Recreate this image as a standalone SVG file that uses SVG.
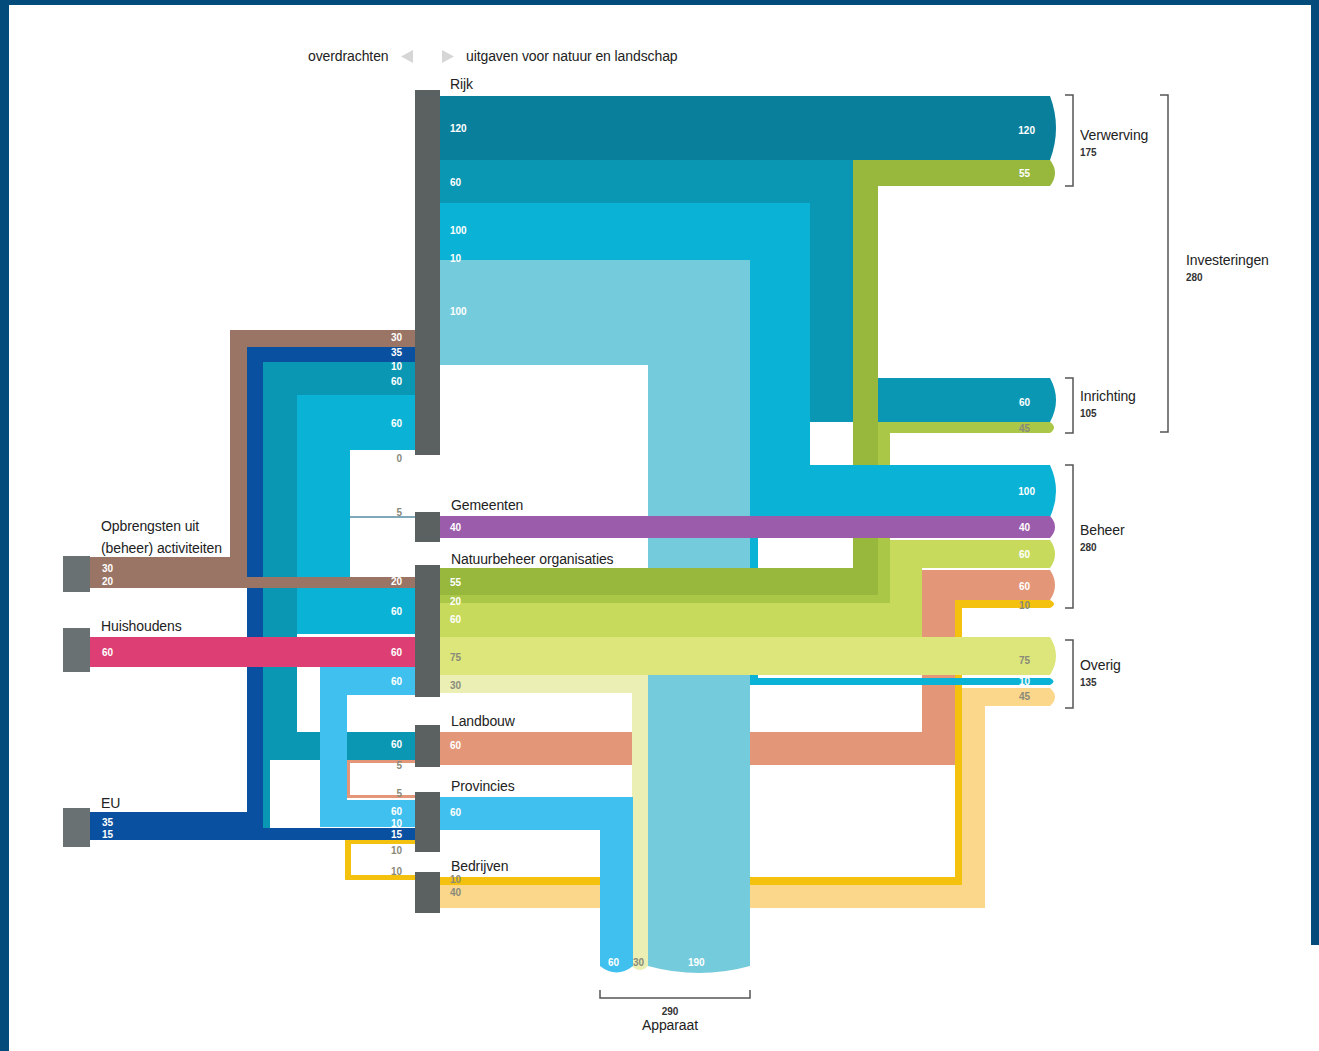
<svg xmlns="http://www.w3.org/2000/svg" width="1319" height="1051" viewBox="0 0 1319 1051">
<style>
text{font-family:"Liberation Sans",Arial,sans-serif}
.lbl{font-size:14px;fill:#222;letter-spacing:-0.1px}
.num{font-size:10px;font-weight:bold;fill:#fff}
.numg{font-size:10px;font-weight:bold;fill:#8a8a7a}
.tot{font-size:10px;font-weight:bold;fill:#333}
.node{fill:#5b6061}
.src{fill:#697173}
.br{fill:none;stroke:#555;stroke-width:1.5}
.dteal{fill:#0a7f9c}.teal{fill:#0a97b3}.cyan{fill:#0ab3d5}.lblue{fill:#74cbdb}
.dgreen{fill:#97b83d}.lgreen{fill:#abc748}.ygreen{fill:#c7da5c}.pale{fill:#dce67b}.vpale{fill:#ebefb4}
.purple{fill:#9a5cab}.salmon{fill:#e39678}.yellow{fill:#f4c10e}.lorange{fill:#fbd78b}
.sky{fill:#3fc0ee}.pink{fill:#dd3f74}.brown{fill:#9a7565}.dblue{fill:#0a50a0}
</style>
<rect x="0" y="0" width="1319" height="1051" fill="#fff"/>
<rect x="0" y="0" width="1319" height="5" fill="#024b7a"/>
<rect x="0" y="0" width="9" height="1051" fill="#024b7a"/>
<rect x="1311" y="0" width="8" height="945" fill="#024b7a"/>

<g id="legend">
<text class="lbl" x="308" y="61">overdrachten</text>
<polygon points="413,50 413,63 401,56.5" fill="#d6d6d6"/>
<polygon points="442,50 442,63 454,56.5" fill="#d6d6d6"/>
<text class="lbl" x="466" y="61">uitgaven voor natuur en landschap</text>
</g>

<g id="connectors">
<path class="teal" d="M440,160 H853 V422 H810 V203 H440 Z"/>
<path class="teal" d="M810,378 H1050 Q1062,400 1050,422 H810 Z"/>
<path class="cyan" d="M440,203 H810 V517 H750 V260 H440 Z"/>
<rect class="cyan" x="749" y="258" width="9" height="427"/>
<path class="salmon" d="M922,570 H955 V765 H440 V732 H922 Z"/>
<path class="salmon" d="M922,570 H1050 Q1060,585 1050,600 H922 Z"/>
<path class="yellow" d="M955,600 H962 V885 H440 V877 H955 Z"/>
<path class="yellow" d="M955,600 H1050 Q1058,604 1050,608 H955 Z"/>
<path class="lorange" d="M962,688 H985 V908 H440 V885 H962 Z"/>
<path class="lorange" d="M962,688 H1050 Q1060,697 1050,706 H962 Z"/>
<path class="lblue" d="M440,260 H750 V966 Q699,980 648,966 V365 H440 Z"/>
<path class="vpale" d="M440,675 H648 V966 Q640,974 632,966 V693 H440 Z"/>
<path class="sky" d="M440,797 H633 V966 Q616.5,979 600,966 V830 H440 Z"/>
<path class="dgreen" d="M853,160 H878 V595 H440 V568 H853 Z"/>
<path class="dgreen" d="M853,160 H1050 Q1060,173 1050,186 H853 Z"/>
<path class="lgreen" d="M878,422 H890 V603 H440 V595 H878 Z"/>
<path class="lgreen" d="M878,422 H1050 Q1058,427.5 1050,433 H878 Z"/>
<path class="ygreen" d="M890,540 H922 V637 H440 V603 H890 Z"/>
<path class="ygreen" d="M890,540 H1050 Q1060,554 1050,568 H890 Z"/>
<path class="cyan" d="M750,465 H1050 Q1062,491 1050,517 H750 Z"/>
<path class="purple" d="M440,516 H1050 Q1060,527 1050,538 H440 Z"/>
<path class="pale" d="M440,637 H1050 Q1062,656 1050,675 H440 Z"/>
<path class="cyan" d="M750,678 H1050 Q1057,681.5 1050,685 H750 Z"/>
<path class="dteal" d="M440,96 H1050 Q1062,128 1050,160 H440 Z"/>
<path class="dblue" d="M415,347 H247 V812 H90 V840 H415 V828 H263 V362 H415 Z"/>
<path class="teal" d="M415,362 H263 V828 H270 V760 H415 V732 H297 V395 H415 Z"/>
<path class="cyan" d="M415,395 H297 V634 H415 V588 H350 V450 H415 Z"/>
<path class="brown" d="M90,557 H230 V330 H415 V347 H247 V577 H90 Z"/>
<rect class="brown" x="90" y="577" width="325" height="11"/>
<rect class="pink" x="90" y="637" width="325" height="30"/>
<path class="sky" d="M415,667 H320 V827 H415 V800 H347 V695 H415 Z"/>
<path class="salmon" d="M415,760 H347 V798 H415 V795 H350 V763 H415 Z"/>
<path class="yellow" d="M415,840 H345 V880 H415 V875 H351 V844 H415 Z"/>
<line x1="350" y1="517" x2="415" y2="517" stroke="#7fa9b9" stroke-width="2"/>
</g>

<g id="flow-labels">
<text class="num" x="450" y="132">120</text>
<text class="num" x="450" y="186">60</text>
<text class="num" x="450" y="234">100</text>
<text class="num" x="450" y="262">10</text>
<text class="num" x="450" y="315">100</text>
<text class="num" x="450" y="531">40</text>
<text class="num" x="450" y="586">55</text>
<text class="num" x="450" y="605">20</text>
<text class="num" x="450" y="623">60</text>
<text class="numg" x="450" y="661">75</text>
<text class="numg" x="450" y="689">30</text>
<text class="num" x="450" y="749">60</text>
<text class="num" x="450" y="816">60</text>
<text class="numg" x="450" y="883">10</text>
<text class="numg" x="450" y="896">40</text>
<g text-anchor="end">
<text class="num" x="402" y="341">30</text>
<text class="num" x="402" y="356">35</text>
<text class="num" x="402" y="370">10</text>
<text class="num" x="402" y="385">60</text>
<text class="num" x="402" y="427">60</text>
<text class="numg" x="402" y="462">0</text>
<text class="numg" x="402" y="516">5</text>
<text class="num" x="402" y="585">20</text>
<text class="num" x="402" y="615">60</text>
<text class="num" x="402" y="656">60</text>
<text class="num" x="402" y="685">60</text>
<text class="num" x="402" y="748">60</text>
<text class="numg" x="402" y="769">5</text>
<text class="numg" x="402" y="797">5</text>
<text class="num" x="402" y="815">60</text>
<text class="num" x="402" y="827" font-size="9">10</text>
<text class="num" x="402" y="838" font-size="9">15</text>
<text class="numg" x="402" y="854">10</text>
<text class="numg" x="402" y="875">10</text>
<text class="num" x="1035" y="134">120</text>
<text class="num" x="1030" y="177">55</text>
<text class="num" x="1030" y="406">60</text>
<text class="numg" x="1030" y="432">45</text>
<text class="num" x="1035" y="495">100</text>
<text class="num" x="1030" y="531">40</text>
<text class="num" x="1030" y="558">60</text>
<text class="num" x="1030" y="590">60</text>
<text class="numg" x="1030" y="609">10</text>
<text class="numg" x="1030" y="664">75</text>
<text class="num" x="1030" y="685">10</text>
<text class="numg" x="1030" y="700">45</text>
</g>
<text class="num" x="102" y="572">30</text>
<text class="num" x="102" y="585">20</text>
<text class="num" x="102" y="656">60</text>
<text class="num" x="102" y="826">35</text>
<text class="num" x="102" y="838">15</text>
<text class="num" x="608" y="966">60</text>
<text class="numg" x="633" y="966">30</text>
<text class="num" x="688" y="966">190</text>
</g>

<g id="node-rijk"><rect class="node" x="415" y="90" width="25" height="365"/><text class="lbl" x="450" y="89">Rijk</text></g>
<g id="node-gemeenten"><rect class="node" x="415" y="512" width="25" height="30"/><text class="lbl" x="451" y="510">Gemeenten</text></g>
<g id="node-natuurbeheer"><rect class="node" x="415" y="565" width="25" height="132"/><text class="lbl" x="451" y="564">Natuurbeheer organisaties</text></g>
<g id="node-landbouw"><rect class="node" x="415" y="725" width="25" height="42"/><text class="lbl" x="451" y="726">Landbouw</text></g>
<g id="node-provincies"><rect class="node" x="415" y="792" width="25" height="60"/><text class="lbl" x="451" y="791">Provincies</text></g>
<g id="node-bedrijven"><rect class="node" x="415" y="872" width="25" height="41"/><text class="lbl" x="451" y="871">Bedrijven</text></g>
<g id="node-opbrengsten"><rect class="src" x="63" y="556" width="27" height="36"/><text class="lbl" x="101" y="531">Opbrengsten uit</text><text class="lbl" x="101" y="553">(beheer) activiteiten</text></g>
<g id="node-huishoudens"><rect class="src" x="63" y="628" width="27" height="44"/><text class="lbl" x="101" y="631">Huishoudens</text></g>
<g id="node-eu"><rect class="src" x="63" y="808" width="27" height="39"/><text class="lbl" x="101" y="808">EU</text></g>

<g id="node-verwerving"><path class="br" d="M1065,95 H1073 V186 H1065"/><text class="lbl" x="1080" y="140">Verwerving</text><text class="tot" x="1080" y="156">175</text></g>
<g id="node-inrichting"><path class="br" d="M1065,378 H1073 V433 H1065"/><text class="lbl" x="1080" y="401">Inrichting</text><text class="tot" x="1080" y="417">105</text></g>
<g id="node-investeringen"><path class="br" d="M1160,95 H1168 V432 H1160"/><text class="lbl" x="1186" y="265">Investeringen</text><text class="tot" x="1186" y="281">280</text></g>
<g id="node-beheer"><path class="br" d="M1065,465 H1073 V608 H1065"/><text class="lbl" x="1080" y="535">Beheer</text><text class="tot" x="1080" y="551">280</text></g>
<g id="node-overig"><path class="br" d="M1065,640 H1073 V708 H1065"/><text class="lbl" x="1080" y="670">Overig</text><text class="tot" x="1080" y="686">135</text></g>
<g id="node-apparaat"><path class="br" d="M600,990 V998 H750 V990"/><text class="tot" x="670" y="1015" text-anchor="middle">290</text><text class="lbl" x="670" y="1030" text-anchor="middle">Apparaat</text></g>
</svg>
